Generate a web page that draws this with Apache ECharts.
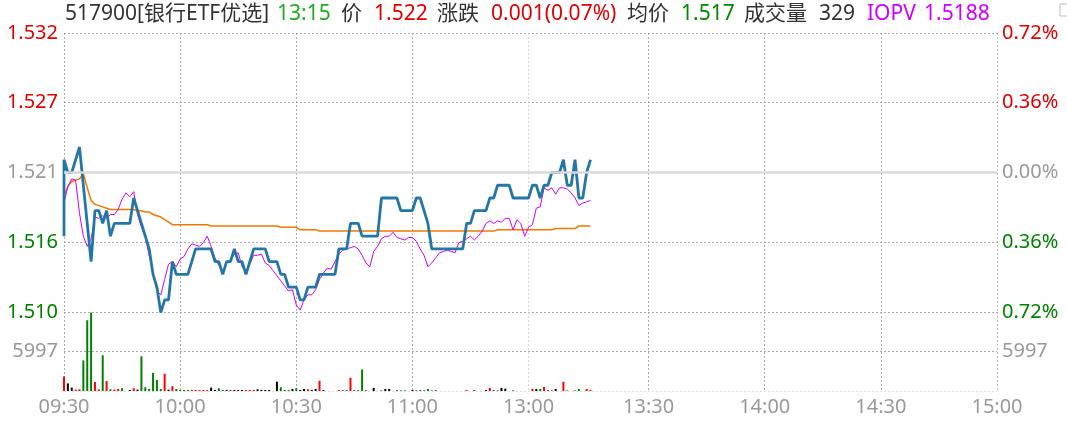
<!DOCTYPE html>
<html><head><meta charset="utf-8">
<script src="https://cdn.jsdelivr.net/npm/echarts@6/dist/echarts.min.js"></script>
<style>html,body{margin:0;padding:0;background:#fff}#c{width:1067px;height:424px}</style>
</head><body><div id="c"></div>
<script>
// ---------- data ----------
const preClose = 1.521;
const auctionPrice = 1.516;
const priceTickLabels = ['1.510','1.516','1.521','1.527','1.532'];
const pctTickLabels = ['0.72%','0.36%','0.00%','0.36%','0.72%'];
const timeTickLabels = ['09:30','10:00','10:30','11:00','13:00','13:30','14:00','14:30','15:00'];
const timeTickIndex = [0,30,60,90,120,151,181,211,241];
const volTickLabel = '5997';
const volAxisMax = 11994;

const headerLabels = ['517900[银行ETF优选]','13:15','价','1.522','涨跌','0.001(0.07%)','均价','1.517','成交量','329','IOPV','1.5188'];

const price = [
 1.522,1.521,1.521,1.522,1.523,1.520,1.517,1.514,1.518,1.518,
 1.517,1.518,1.516,1.517,1.517,1.517,1.517,1.517,1.519,1.518,
 1.517,1.516,1.515,1.513,1.512,1.510,1.511,1.511,1.514,1.513,
 1.513,1.513,1.513,1.514,1.515,1.515,1.515,1.515,1.515,1.514,
 1.514,1.513,1.514,1.514,1.515,1.514,1.514,1.513,1.514,1.515,
 1.515,1.515,1.515,1.514,1.514,1.514,1.513,1.513,1.512,1.512,
 1.512,1.511,1.511,1.512,1.512,1.512,1.513,1.513,1.513,1.513,
 1.513,1.515,1.515,1.515,1.517,1.517,1.517,1.516,1.516,1.516,
 1.516,1.516,1.519,1.519,1.519,1.519,1.519,1.518,1.518,1.518,
 1.518,1.519,1.519,1.518,1.517,1.515,1.515,1.515,1.515,1.515,
 1.515,1.515,1.515,1.515,1.517,1.517,1.518,1.518,1.518,1.518,
 1.519,1.519,1.520,1.520,1.520,1.520,1.519,1.519,1.519,1.519,
 1.519,1.520,1.520,1.519,1.520,1.520,1.521,1.521,1.521,1.522,
 1.520,1.520,1.522,1.519,1.519,1.521,1.522
];

const iopv = [
 1.5186,1.5199,1.5205,1.5204,1.5178,1.5160,1.5152,1.5158,1.5175,1.5174,
 1.5176,1.5174,1.5177,1.5177,1.5181,1.5189,1.5194,1.5191,1.5195,1.5177,
 1.5167,1.5159,1.5145,1.5131,1.5117,1.5114,1.5126,1.5138,1.5140,1.5136,
 1.5142,1.5144,1.5150,1.5154,1.5153,1.5152,1.5155,1.5160,1.5152,1.5143,
 1.5137,1.5132,1.5140,1.5141,1.5146,1.5147,1.5136,1.5132,1.5138,1.5145,
 1.5145,1.5146,1.5139,1.5137,1.5133,1.5129,1.5125,1.5121,1.5117,1.5118,
 1.5106,1.5102,1.5110,1.5114,1.5114,1.5118,1.5126,1.5131,1.5135,1.5134,
 1.5140,1.5146,1.5149,1.5150,1.5151,1.5152,1.5150,1.5145,1.5139,1.5136,
 1.5148,1.5152,1.5158,1.5160,1.5160,1.5163,1.5159,1.5158,1.5157,1.5159,
 1.5159,1.5156,1.5150,1.5145,1.5136,1.5139,1.5143,1.5147,1.5148,1.5149,
 1.5148,1.5147,1.5155,1.5156,1.5158,1.5160,1.5157,1.5160,1.5164,1.5170,
 1.5172,1.5170,1.5172,1.5171,1.5174,1.5174,1.5165,1.5173,1.5170,1.5160,
 1.5167,1.5169,1.5182,1.5183,1.5198,1.5196,1.5198,1.5193,1.5198,1.5198,
 1.5197,1.5194,1.5190,1.5184,1.5186,1.5187,1.5188
];

const avgPrice = [
 1.5192,1.5199,1.5203,1.5204,1.5205,1.5209,1.5198,1.5188,1.5185,1.5184,
 1.5183,1.5182,1.5181,1.5181,1.5181,1.5181,1.5181,1.5181,1.5181,1.5180,
 1.5180,1.5179,1.5179,1.5177,1.5176,1.5175,1.5173,1.5171,1.5169,1.5169,
 1.5169,1.5169,1.5169,1.5169,1.5169,1.5169,1.5169,1.5169,1.5168,1.5168,
 1.5168,1.5168,1.5168,1.5168,1.5168,1.5168,1.5168,1.5168,1.5168,1.5168,
 1.5168,1.5168,1.5168,1.5168,1.5168,1.5168,1.5167,1.5167,1.5167,1.5167,
 1.5167,1.5165,1.5165,1.5165,1.5165,1.5165,1.5164,1.5164,1.5164,1.5164,
 1.5164,1.5164,1.5164,1.5164,1.5164,1.5164,1.5164,1.5164,1.5164,1.5164,
 1.5164,1.5164,1.5164,1.5164,1.5164,1.5164,1.5164,1.5164,1.5164,1.5164,
 1.5164,1.5164,1.5164,1.5164,1.5164,1.5164,1.5164,1.5164,1.5164,1.5164,
 1.5164,1.5164,1.5164,1.5164,1.5164,1.5164,1.5164,1.5164,1.5164,1.5164,
 1.5164,1.5164,1.5165,1.5165,1.5165,1.5165,1.5165,1.5165,1.5165,1.5165,
 1.5165,1.5165,1.5165,1.5165,1.5165,1.5165,1.5165,1.5166,1.5166,1.5166,
 1.5166,1.5166,1.5166,1.5168,1.5168,1.5168,1.5168
];

const volume = [
 2190,1150,520,210,260,4640,10740,11900,1360,260,
 5420,1510,260,210,310,420,0,160,420,210,
 5270,570,310,2760,1670,310,2610,210,730,310,
 160,160,160,160,160,160,160,160,520,160,
 420,160,160,160,160,160,160,160,160,160,
 260,160,160,160,0,1410,570,160,160,310,
 420,160,310,260,160,310,1560,160,0,0,
 0,150,100,100,2020,100,100,3260,100,0,
 470,0,100,310,310,0,100,100,100,0,
 150,100,100,100,310,100,100,0,0,0,
 0,0,0,0,150,0,150,0,0,150,
 470,100,100,470,360,0,100,0,0,0,
 0,310,310,310,620,100,100,310,0,1400,
 100,0,100,310,0,310,150
];
// 1 = up (red), -1 = down (green), 0 = flat (black)
const volDir = [
 1,0,0,1,1,-1,-1,-1,1,1,
 -1,1,-1,1,1,-1,0,0,1,0,
 -1,-1,-1,-1,-1,-1,1,0,1,-1,
 -1,-1,-1,1,1,1,1,1,0,0,
 -1,-1,0,1,0,0,0,1,1,1,
 0,0,0,0,0,0,-1,-1,-1,0,
 -1,0,0,1,0,0,1,0,0,0,
 0,1,0,0,1,0,0,-1,0,0,
 0,0,1,0,0,0,0,-1,-1,0,
 0,1,0,-1,-1,-1,0,0,0,0,
 0,0,0,0,1,0,1,0,0,0,
 1,0,1,0,0,0,-1,0,0,0,
 0,1,0,-1,1,0,1,0,0,1,
 -1,0,1,-1,0,1,1
];

// ---------- chart ----------
const FONT = "'Noto Sans', 'Noto Sans CJK SC', sans-serif";
const RED = '#dd0000', GREEN = '#008000', GRAY = '#999999', DARK = '#333333';
const BLUE = '#2476a6', MAGENTA = '#cc00ff', ORANGE = '#f07800';

const cats = [];
function pushRange(h0, m0, h1, m1) {
  for (let t = h0 * 60 + m0; t <= h1 * 60 + m1; t++) {
    cats.push(String(Math.floor(t / 60)).padStart(2, '0') + ':' + String(t % 60).padStart(2, '0'));
  }
}
pushRange(9, 30, 11, 30);
pushRange(13, 0, 15, 0);

const pct = p => (p - preClose) / preClose * 100;
const isTick = i => timeTickIndex.indexOf(i) >= 0;
const vColor = ['#aaaaaa','#aaaaaa','#aaaaaa','#aaaaaa','#d6d6d6','#aaaaaa','#aaaaaa','#aaaaaa','#b8b8b8'];
const signColor = v => { v = parseFloat(v); return v > 1e-9 ? RED : (v < -1e-9 ? GREEN : GRAY); };
const tickIdx = v => Math.round((parseFloat(v) + 0.72) / 0.36);

const headerX = [65, 277, 341, 374, 437, 491, 627, 681, 744, 819, 867, 924];
const headerC = [DARK, '#22aa22', DARK, RED, DARK, RED, DARK, '#008800', DARK, DARK, MAGENTA, MAGENTA];

const graphics = headerLabels.map((t, k) => ({
  type: 'text', left: headerX[k], top: 4,
  style: { text: t, fill: headerC[k], font: '21px ' + FONT }
}));
graphics.push({ type: 'rect', shape: { x: 1060, y: 4, width: 12, height: 12 }, style: { fill: 'none', stroke: '#bbbbbb', lineWidth: 1 } });

const chart = echarts.init(document.getElementById('c'), null, { renderer: 'canvas' });
chart.setOption({
  animation: false,
  backgroundColor: '#ffffff',
  textStyle: { fontFamily: FONT },
  graphic: graphics,
  grid: [
    { left: 64, right: 70, top: 33, height: 279 },
    { left: 64, right: 70, top: 312, height: 79 }
  ],
  xAxis: [
    { type: 'category', gridIndex: 0, data: cats, boundaryGap: false,
      axisLine: { show: false }, axisTick: { show: false }, axisLabel: { show: false },
      splitLine: { show: true, interval: isTick, lineStyle: { type: [2, 2], color: vColor, width: 1 } } },
    { type: 'category', gridIndex: 1, data: cats, boundaryGap: false,
      axisLine: { show: false }, axisTick: { show: false },
      axisLabel: { interval: isTick, formatter: (v, i) => timeTickLabels[timeTickIndex.indexOf(i)],
        color: GRAY, fontSize: 20, margin: 6, fontFamily: FONT },
      splitLine: { show: true, interval: isTick, lineStyle: { type: [2, 2], color: vColor, width: 1 } } }
  ],
  yAxis: [
    { type: 'value', gridIndex: 0, position: 'left', min: -0.72, max: 0.72, interval: 0.36,
      axisLine: { show: false }, axisTick: { show: false },
      axisLabel: { formatter: v => priceTickLabels[tickIdx(v)], color: signColor, fontSize: 20, margin: 6, fontFamily: FONT },
      splitLine: { show: true, lineStyle: { type: [2, 2], color: ['#aaaaaa','#aaaaaa','rgba(0,0,0,0)','#aaaaaa','#aaaaaa'] } } },
    { type: 'value', gridIndex: 0, position: 'right', min: -0.72, max: 0.72, interval: 0.36,
      axisLine: { show: false }, axisTick: { show: false },
      axisLabel: { formatter: v => pctTickLabels[tickIdx(v)], color: signColor, fontSize: 20, margin: 5, fontFamily: FONT },
      splitLine: { show: false } },
    { type: 'value', gridIndex: 1, position: 'left', min: 0, max: volAxisMax, interval: volAxisMax / 2,
      axisLine: { show: false }, axisTick: { show: false },
      axisLabel: { formatter: v => (Math.abs(parseFloat(v) - volAxisMax / 2) < 1 ? volTickLabel : ''), color: GRAY, fontSize: 20, margin: 6, fontFamily: FONT },
      splitLine: { show: true, lineStyle: { type: [2, 2], color: ['#dddddd','#aaaaaa','#aaaaaa'] } } },
    { type: 'value', gridIndex: 1, position: 'right', min: 0, max: volAxisMax, interval: volAxisMax / 2,
      axisLine: { show: false }, axisTick: { show: false },
      axisLabel: { formatter: v => (Math.abs(parseFloat(v) - volAxisMax / 2) < 1 ? volTickLabel : ''), color: GRAY, fontSize: 20, margin: 5, fontFamily: FONT },
      splitLine: { show: false } }
  ],
  series: [
    { name: '均价', type: 'line', xAxisIndex: 0, yAxisIndex: 0, symbol: 'none',
      data: avgPrice.map(pct), lineStyle: { color: ORANGE, width: 1.5 },
      markLine: { silent: true, symbol: 'none', label: { show: false },
        lineStyle: { color: '#d9d9d9', type: 'solid', width: 2.5 }, data: [{ yAxis: 0 }] } },
    { name: 'IOPV', type: 'line', xAxisIndex: 0, yAxisIndex: 0, symbol: 'none',
      data: iopv.map(pct), lineStyle: { color: MAGENTA, width: 1 } },
    { name: '价', type: 'line', xAxisIndex: 0, yAxisIndex: 0, symbol: 'none',
      data: [[0, pct(auctionPrice)]].concat(price.map((p, i) => [i, pct(p)])),
      lineStyle: { color: BLUE, width: 2.8 } },
    { name: '成交量', type: 'bar', xAxisIndex: 1, yAxisIndex: 2, barWidth: 2,
      data: volume.map((v, i) => ({ value: v, itemStyle: { color: volDir[i] > 0 ? '#ff0000' : (volDir[i] < 0 ? GREEN : '#000000') } })) }
  ]
});
</script>
</body></html>
